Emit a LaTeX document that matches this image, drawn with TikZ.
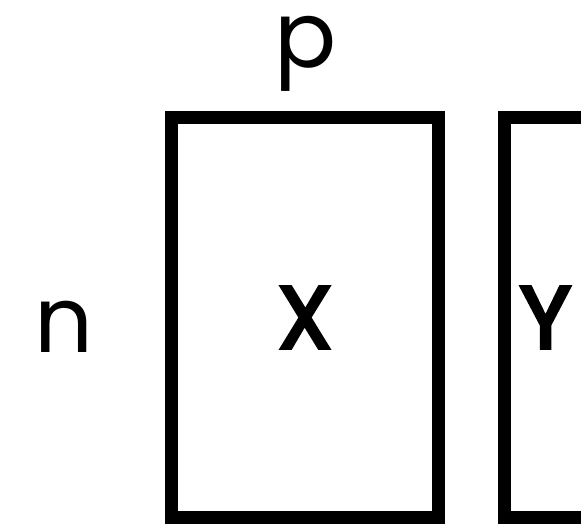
\documentclass[tikz,border=0pt]{standalone}
\usepackage{fontspec}
\setmainfont{Poppins}
\newfontfamily\matfont[FakeBold=4]{Poppins}
\begin{document}
\begin{tikzpicture}[
    x=1pt, y=1pt,
    matbox/.style={draw=black, line width=13pt, minimum height=400pt, inner sep=0pt, font=\matfont\fontsize{88}{88}\selectfont},
    dimlabel/.style={anchor=base, inner sep=0pt, font=\fontsize{92}{92}\selectfont}
]

% Canvas
\useasboundingbox (0,0) rectangle (581,-523);
\clip (0,0) rectangle (581,-523);

% Data matrices
\node[matbox, minimum width=266.8pt] (xbox) at (305,-317.5) {X};
\node[matbox, minimum width=83pt] (ybox) at (545.5,-317.5) {Y};

% Dimension labels
\node[dimlabel] (collabel) at (306,-67) {p};
\node[dimlabel] (rowlabel) at (64,-352) {n};

\end{tikzpicture}
\end{document}
